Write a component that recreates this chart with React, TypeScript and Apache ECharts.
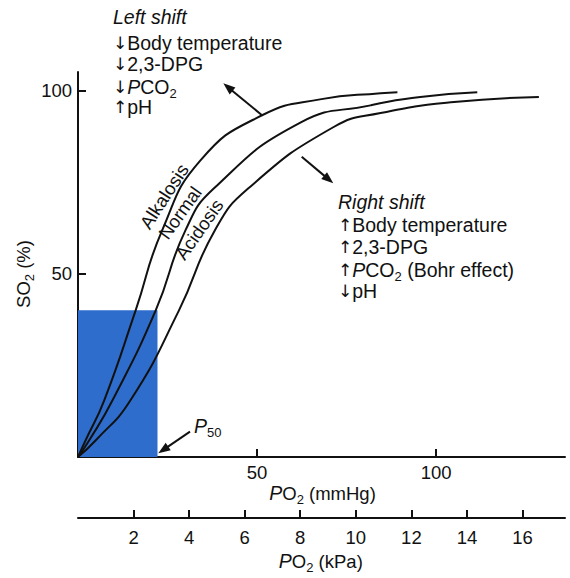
import React, { useEffect, useRef } from "react";
import * as echarts from "echarts";

// Oxygen–haemoglobin dissociation curves: [PO2 (mmHg), SO2 (%)]
const alkalosis: [number, number][] = [
  [0, 0], [2.1, 4.5], [7.3, 15.4], [16.1, 40], [23.5, 61.8], [34.2, 80.9],
  [51.4, 93.2], [68, 97.6], [84.5, 99.2], [89.2, 99.5],
];
const normal: [number, number][] = [
  [0, 0], [3.1, 4.5], [9.6, 15.4], [21.7, 40], [30, 61.8], [37.9, 73.2],
  [62.1, 91.2], [81.7, 95.9], [95.6, 98.2], [111.5, 99.5],
];
const acidosis: [number, number][] = [
  [0, 0], [4.9, 4.5], [14.6, 15.4], [28.2, 40], [38.2, 61.8], [47.5, 73.2],
  [71.4, 90], [84.5, 93.8], [105, 96.8], [128.7, 98.2],
];
const curveNames = ["Alkalosis", "Normal", "Acidosis"];
const p50Box = { po2: 22.2, so2: 40 };

const mmHgTicks = [50, 100];
const kPaTicks = [2, 4, 6, 8, 10, 12, 14, 16];
const so2Ticks = [50, 100];

const leftShift = ["Body temperature", "2,3-DPG", "PCO2", "pH"];
const rightShift = ["Body temperature", "2,3-DPG", "PCO2 (Bohr effect)", "pH"];

const F = "'Liberation Sans', Arial, Helvetica, sans-serif";
const INK = "#111";
const FS = 19.5;

const rich = {
  n: { fontSize: FS, fontFamily: F, fill: INK, lineHeight: 26 },
  a: { fontSize: 17, fontFamily: "'DejaVu Sans', sans-serif", fill: INK, lineHeight: 26 },
  c: { fontSize: 18.5, fontFamily: F, fill: INK, lineHeight: 26 },
  i: { fontSize: FS, fontFamily: F, fill: INK, fontStyle: "italic", lineHeight: 26 },
  s: { fontSize: 13, fontFamily: F, fill: INK, lineHeight: 13, verticalAlign: "bottom" },
};

function fmt(line: string): string {
  return line
    .replace(/^PCO2(.*)$/, (_m, rest) => `{i|P}{n|CO}{s|2}${rest ? `{n|${rest}}` : ""}`)
    .replace(/^([^{].*)$/, "{n|$1}");
}

function txt(x: number, y: number, text: string, extra: any = {}) {
  return {
    type: "text",
    x,
    y,
    silent: true,
    ...extra,
    style: {
      text,
      rich,
      fontSize: FS,
      fontFamily: F,
      fill: INK,
      align: "left",
      verticalAlign: "middle",
      ...(extra.style || {}),
    },
  };
}

function rotLabel(cx: number, cy: number, deg: number, text: string) {
  const r = (deg * Math.PI) / 180;
  const off = 5; // nudge away from the curve it sits beside
  return txt(cx - Math.sin(r) * off, cy - Math.cos(r) * off, `{c|${text}}`, {
    rotation: r,
    style: { align: "center" },
  });
}

function arrow(x1: number, y1: number, x2: number, y2: number) {
  const dx = x2 - x1, dy = y2 - y1;
  const L = Math.hypot(dx, dy);
  const ux = dx / L, uy = dy / L;
  const hl = 12, hw = 4.5;
  const bx = x2 - ux * hl, by = y2 - uy * hl;
  return [
    { type: "line", silent: true, shape: { x1, y1, x2: bx + ux * 2, y2: by + uy * 2 }, style: { stroke: INK, lineWidth: 2 } },
    {
      type: "polygon",
      silent: true,
      shape: { points: [[x2, y2], [bx - uy * hw, by + ux * hw], [bx + uy * hw, by - ux * hw]] },
      style: { fill: INK },
    },
  ];
}

export default function App() {
  const ref = useRef<HTMLDivElement>(null);
  useEffect(() => {
    if (!ref.current) return;
    const chart = echarts.init(ref.current, null, { renderer: "svg" });
    const arrows = ["↓", "↓", "↓", "↑"];
    const rArrows = ["↑", "↑", "↑", "↓"];
    const leftY = [43, 64, 87, 107];
    const rightY = [225, 247, 270, 291];
    const graphic: any[] = [
      txt(113, 17, "{i|Left shift}"),
      ...leftShift.map((s, k) => txt(113, leftY[k], `{a|${arrows[k]}}` + fmt(s))),
      txt(338, 202, "{i|Right shift}"),
      ...rightShift.map((s, k) => txt(338, rightY[k], `{a|${rArrows[k]}}` + fmt(s))),
      ...arrow(261.7, 115, 223.3, 83.3),
      ...arrow(301.7, 156.7, 333.3, 183.3),
      ...arrow(190, 431.7, 158.3, 453.3),
      txt(194, 426, "{i|P}{s|50}"),
      rotLabel(168.3, 199, 56.9, curveNames[0]),
      rotLabel(184, 215.7, 54.5, curveNames[1]),
      rotLabel(203.3, 232.3, 54.9, curveNames[2]),
      txt(322.5, 493, "{i|P}{c|O}{s|2}{c| (mmHg)}", { style: { align: "center" } }),
      txt(320.8, 561, "{i|P}{c|O}{s|2}{c| (kPa)}", { style: { align: "center" } }),
      txt(23, 274, "{c|SO}{s|2}{c| (%)}", { rotation: Math.PI / 2, style: { align: "center" } }),
    ];

    const lineSeries = (name: string, data: [number, number][]) => ({
      name,
      type: "line",
      data,
      xAxisIndex: 0,
      yAxisIndex: 0,
      showSymbol: false,
      smooth: 0.5,
      z: 3,
      lineStyle: { color: INK, width: 2 },
      silent: true,
    });

    chart.setOption({
      animation: false,
      backgroundColor: "#fff",
      grid: { left: 78, top: 72, width: 487, height: 385, containLabel: false },
      xAxis: [
        {
          type: "value",
          min: 0,
          max: 136,
          position: "bottom",
          axisLine: { show: true, onZero: false, lineStyle: { color: INK, width: 2 } },
          axisTick: { show: true, inside: true, length: 8, customValues: mmHgTicks, lineStyle: { color: INK, width: 2 } },
          axisLabel: { customValues: mmHgTicks, margin: 6, fontSize: 18.5, fontFamily: F, color: INK },
          splitLine: { show: false },
        },
        {
          type: "value",
          min: 0,
          max: 17.53,
          position: "bottom",
          offset: 61,
          axisLine: { show: true, onZero: false, lineStyle: { color: INK, width: 2 } },
          axisTick: { show: true, inside: true, length: 8, customValues: kPaTicks, lineStyle: { color: INK, width: 2 } },
          axisLabel: { customValues: kPaTicks, margin: 10, fontSize: 18.5, fontFamily: F, color: INK },
          splitLine: { show: false },
        },
      ],
      yAxis: {
        type: "value",
        min: 0,
        max: 105,
        axisLine: { show: true, onZero: false, lineStyle: { color: INK, width: 2 } },
        axisTick: { show: true, inside: true, length: 8, customValues: so2Ticks, lineStyle: { color: INK, width: 2 } },
        axisLabel: { customValues: so2Ticks, margin: 6, fontSize: 18.5, fontFamily: F, color: INK },
        splitLine: { show: false },
      },
      series: [
        {
          name: "P50",
          type: "line",
          data: [],
          silent: true,
          z: 1,
          markArea: {
            silent: true,
            itemStyle: { color: "#2f6dcc", opacity: 1 },
            data: [[{ xAxis: 0, yAxis: 0 }, { xAxis: p50Box.po2, yAxis: p50Box.so2 }]],
          },
        },
        lineSeries(curveNames[0], alkalosis),
        lineSeries(curveNames[1], normal),
        lineSeries(curveNames[2], acidosis),
      ],
      graphic,
    });
    return () => chart.dispose();
  }, []);
  return <div ref={ref} style={{ position: "fixed", left: 0, top: 0, width: 570, height: 578 }} />;
}
